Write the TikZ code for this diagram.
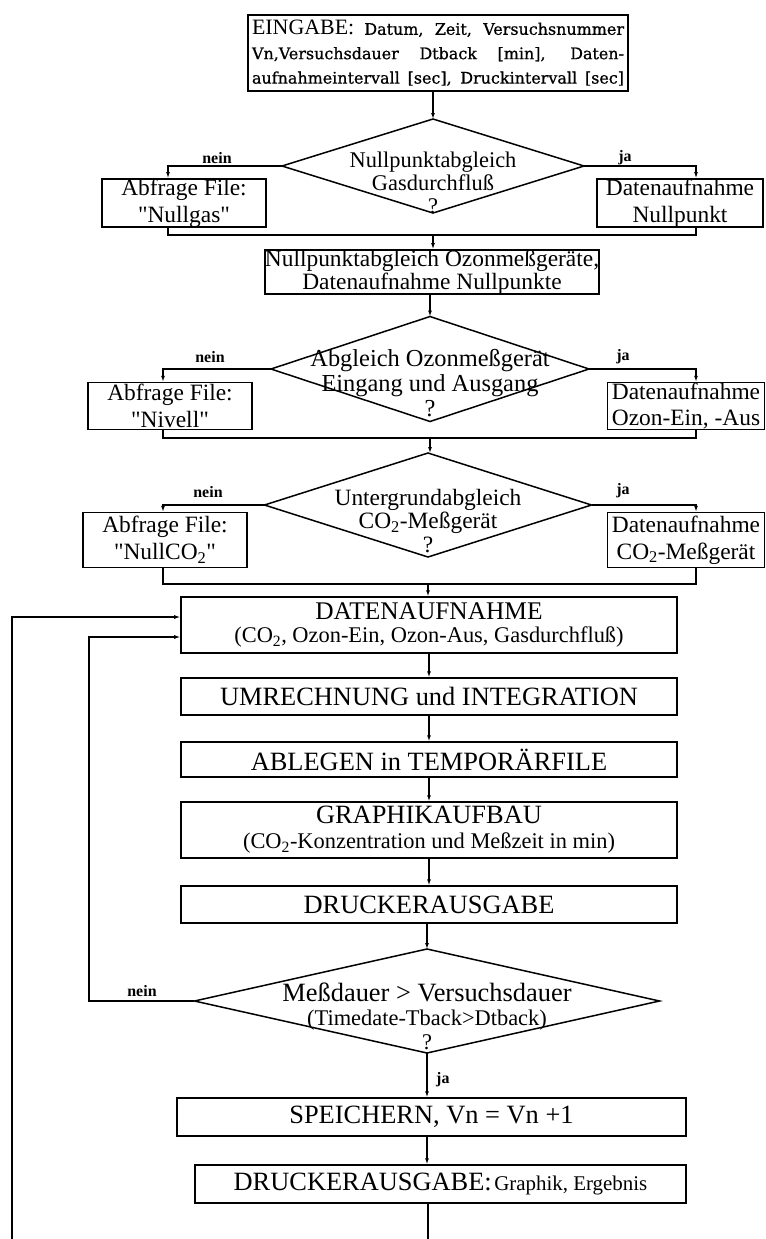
\documentclass[tikz,border=0pt]{standalone}
\usepackage{fontspec}
\setmainfont{Liberation Serif}
\newfontfamily\widefont{DejaVu Serif}[FakeBold=0.8]
\usetikzlibrary{shapes.geometric,arrows.meta,calc}
\begin{document}
\begin{tikzpicture}[x=1bp,y=-1bp,
  box/.style={draw, line width=1.5bp, inner sep=0pt, align=center},
  dia/.style={draw, diamond, line width=1.5bp, inner sep=0pt, outer sep=0pt},
  conn/.style={line width=1.1bp},
  arr/.style={conn, -{Latex[length=6bp,width=4bp]}},
  lab/.style={font=\fontsize{16}{17}\selectfont\bfseries, inner sep=0pt},
  sm/.style={font=\fontsize{23.5}{27}\selectfont},
  dtxt/.style={inner sep=0pt, align=center},
  big/.style={font=\fontsize{26.5}{28}\selectfont}
]
\useasboundingbox (0,0) rectangle (766,1239);

% top input box
\node[box, minimum width=380bp, minimum height=76bp,
      font=\widefont\fontsize{16}{24.5}\selectfont] (top) at (438,53)
 {\makebox[372bp][s]{{\rmfamily\fontsize{22}{24}\selectfont EINGABE:} Datum, Zeit, Versuchsnummer}\\
  \makebox[372bp][s]{Vn,Versuchsdauer Dtback [min], Daten-}\\
  \makebox[372bp][s]{aufnahmeintervall [sec], Druckintervall [sec]}};

% decision 1
\node[dia, minimum width=302bp, minimum height=94bp] (d1) at (433,166) {};
\node[dtxt, font=\fontsize{22.5}{23}\selectfont] (d1t) at (433,183) {Nullpunktabgleich\\Gasdurchfluß\\?};
\node[box, sm, minimum width=164bp, minimum height=48bp] (l1) at (184,203) {Abfrage File:\\\textquotedbl Nullgas\textquotedbl};
\node[box, sm, minimum width=166bp, minimum height=48bp] (r1) at (680,203) {Datenaufnahme\\Nullpunkt};
\node[lab] (n1) at (217,158) {nein};
\node[lab] (j1) at (625,158) {ja};
\coordinate (x1l) at (168,0);
\coordinate (x1r) at (696,0);
\coordinate (m1) at (433,235);

\node[box, sm, minimum width=329bp, minimum height=40bp] (b2) at (432,272)
 {Nullpunktabgleich Ozonmeßgeräte,\\[-4bp]Datenaufnahme Nullpunkte};

% decision 2
\node[dia, minimum width=318bp, minimum height=105bp] (d2) at (430,369) {};
\node[dtxt, font=\fontsize{24.5}{25}\selectfont] (d2t) at (430,383) {Abgleich Ozonmeßgerät\\Eingang und Ausgang\\?};
\node[box, sm, minimum width=164bp, minimum height=47bp] (l2) at (170,406) {Abfrage File:\\\textquotedbl Nivell\textquotedbl};
\node[box, sm, minimum width=157bp, minimum height=47bp] (r2) at (686,406) {Datenaufnahme\\Ozon-Ein, -Aus};
\node[lab] (n2) at (210,357) {nein};
\node[lab] (j2) at (623,357) {ja};
\coordinate (x2l) at (163,0);
\coordinate (x2r) at (696,0);
\coordinate (m2) at (430,438);

% decision 3
\node[dia, minimum width=327bp, minimum height=104bp] (d3) at (428,505) {};
\node[dtxt, font=\fontsize{23.5}{23.5}\selectfont] (d3t) at (428,521) {Untergrundabgleich\\CO\textsubscript{2}-Meßgerät\\?};
\node[box, sm, minimum width=164bp, minimum height=55bp] (l3) at (165,540) {Abfrage File:\\\textquotedbl NullCO\textsubscript{2}\textquotedbl};
\node[box, sm, minimum width=157bp, minimum height=55bp] (r3) at (686,540) {Datenaufnahme\\CO\textsubscript{2}-Meßgerät};
\node[lab] (n3) at (208,492) {nein};
\node[lab] (j3) at (623,491) {ja};
\coordinate (x3l) at (163,0);
\coordinate (x3r) at (696,0);
\coordinate (m3) at (428,584);

% main column
\node[box, minimum width=496bp, minimum height=56bp, font=\fontsize{22.5}{24}\selectfont] (dat) at (429,625)
 {{\fontsize{25.5}{26}\selectfont DATENAUFNAHME}\\(CO\textsubscript{2}, Ozon-Ein, Ozon-Aus, Gasdurchfluß)};
\node[box, big, minimum width=496bp, minimum height=37bp] (umr) at (429,696.5) {UMRECHNUNG und INTEGRATION};
\node[box, big, minimum width=496bp, minimum height=35bp] (abl) at (429,759.5) {ABLEGEN in TEMPORÄRFILE};
\node[box, minimum width=496bp, minimum height=56bp, font=\fontsize{22.5}{25}\selectfont] (gra) at (429,830)
 {{\fontsize{26.5}{27}\selectfont GRAPHIKAUFBAU}\\(CO\textsubscript{2}-Konzentration und Meßzeit in min)};
\node[box, big, minimum width=496bp, minimum height=37bp] (dru) at (429,904.5) {DRUCKERAUSGABE};

% decision 4
\node[dia, minimum width=465bp, minimum height=104bp] (d4) at (427,1001) {};
\node[dtxt, font=\fontsize{22.5}{24}\selectfont] (d4t) at (427,1016)
 {{\fontsize{26.5}{27}\selectfont Meßdauer > Versuchsdauer}\\(Timedate-Tback>Dtback)\\?};
\node[lab] (n4) at (142,991) {nein};
\node[lab, anchor=west] (j4) at (436,1080) {ja};

\node[box, big, minimum width=509bp, minimum height=38bp] (spe) at (431.5,1117) {SPEICHERN, Vn = Vn +1};
\node[box, minimum width=491bp, minimum height=38bp] (dr2) at (440.5,1184)
 {{\fontsize{26.5}{27}\selectfont DRUCKERAUSGABE:} {\fontsize{21}{22}\selectfont Graphik, Ergebnis}};

\coordinate (endc) at (428,1239);
\coordinate (outb) at (12,1239);
\coordinate (inx) at (89,0);

% connectors
\draw[arr] (top.south -| d1.north) -- (d1.north);
\draw[arr] (d1.west) -| (l1.north -| x1l);
\draw[arr] (d1.east) -| (r1.north -| x1r);
\draw[conn] (l1.south -| x1l) |- (m1 -| x1r) -- (r1.south -| x1r);
\draw[arr] (m1) -- (m1 |- b2.north);

\draw[arr] (b2.south -| d2.north) -- (d2.north);
\draw[arr] (d2.west) -| (l2.north -| x2l);
\draw[arr] (d2.east) -| (r2.north -| x2r);
\draw[conn] (l2.south -| x2l) |- (m2 -| x2r) -- (r2.south -| x2r);
\draw[arr] (m2) -- (m2 |- d3.north);

\draw[arr] (d3.west) -| (l3.north -| x3l);
\draw[arr] (d3.east) -| (r3.north -| x3r);
\draw[conn] (l3.south -| x3l) |- (m3 -| x3r) -- (r3.south -| x3r);
\draw[arr] (m3) -- (m3 |- dat.north);

\draw[arr] (dat.south) -- (umr.north);
\draw[arr] (umr.south) -- (abl.north);
\draw[arr] (abl.south) -- (gra.north);
\draw[arr] (gra.south) -- (dru.north);
\draw[arr] (dru.south -| d4.north) -- (d4.north);
\draw[arr] (d4.south) -- (d4.south |- spe.north);
\draw[arr] (spe.south -| d4.south) -- (d4.south |- dr2.north);
\draw[conn] (dr2.south -| endc) -- (endc);

\draw[arr] (outb) |- ([yshift=8bp]dat.west);
\draw[arr] (d4.west) -- (d4.west -| inx) |- ([yshift=-12bp]dat.west);
\end{tikzpicture}
\end{document}
